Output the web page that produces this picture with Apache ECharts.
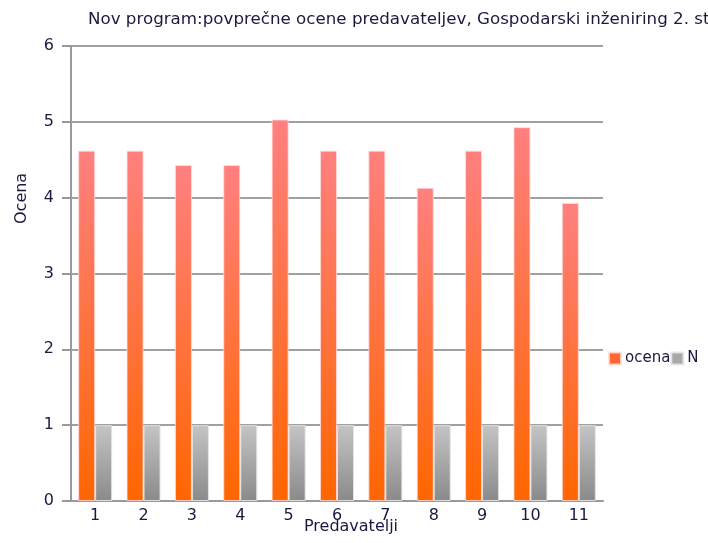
<!DOCTYPE html>
<html>
<head>
<meta charset="utf-8">
<script src="https://cdn.jsdelivr.net/npm/echarts@6/dist/echarts.min.js"></script>
<style>
  html, body { margin: 0; padding: 0; background: #fff; }
  #chart { width: 708px; height: 543px; }
</style>
</head>
<body>
<div id="chart"></div>
<script>
const categories = ['1', '2', '3', '4', '5', '6', '7', '8', '9', '10', '11'];
const ocena = [4.62, 4.62, 4.43, 4.43, 5.03, 4.62, 4.62, 4.13, 4.62, 4.93, 3.93];
const nValues = [1, 1, 1, 1, 1, 1, 1, 1, 1, 1, 1];
const titleText = 'Nov program:povprečne ocene predavateljev, Gospodarski inženiring 2. stopnja';

const font = 'DejaVu Sans';
const textColor = '#1a1a40';

const chart = echarts.init(document.getElementById('chart'));

// gradienti kot v izvirniku
const orangeFill = new echarts.graphic.LinearGradient(0, 0, 0, 1, [
  { offset: 0, color: '#ff8080' },
  { offset: 1, color: '#ff6600' }
]);
const grayFill = new echarts.graphic.LinearGradient(0, 0, 0, 1, [
  { offset: 0, color: '#c4c4c4' },
  { offset: 1, color: '#8a8a8a' }
]);

chart.setOption({
  animation: false,
  title: {
    text: titleText,
    left: 83,
    top: 6,
    textStyle: { fontFamily: font, fontSize: 16.7, fontWeight: 'normal', color: textColor }
  },
  legend: {
    data: [
      { name: 'ocena', itemStyle: { color: '#ff6633' } },
      { name: 'N', itemStyle: { color: '#a8a8a8' } }
    ],
    left: 603,
    top: 346,
    width: 200,
    itemWidth: 12,
    itemHeight: 12,
    itemGap: 0,
    icon: 'rect',
    textStyle: { fontFamily: font, fontSize: 15, color: textColor, padding: [0, 0, 0, -1] }
  },
  grid: { left: 71, right: 105, top: 46, bottom: 42, containLabel: false, outerBoundsMode: 'none' },
  xAxis: {
    type: 'category',
    data: categories,
    name: 'Predavatelji',
    nameLocation: 'middle',
    nameGap: 18,
    nameMoveOverlap: false,
    nameTextStyle: { fontFamily: font, fontSize: 16, color: textColor, padding: [0, 0, 0, 28] },
    axisLine: { lineStyle: { color: '#999', width: 2 } },
    axisTick: { show: false },
    axisLabel: { fontFamily: font, fontSize: 16, color: textColor, margin: 7 }
  },
  yAxis: {
    type: 'value',
    min: 0,
    max: 6,
    interval: 1,
    axisLine: { show: true, lineStyle: { color: '#999', width: 2 } },
    axisTick: { show: true, length: 9, lineStyle: { color: '#999', width: 2 } },
    axisLabel: { fontFamily: font, fontSize: 16, color: textColor, margin: 17 },
    splitLine: { lineStyle: { color: '#a0a0a0', width: 2 } }
  },
  graphic: [{
    type: 'text',
    x: 14,
    y: 224,
    rotation: Math.PI / 2,
    style: { text: 'Ocena', font: '16px "DejaVu Sans"', fill: textColor }
  }],
  series: [
    {
      name: 'ocena',
      type: 'bar',
      data: ocena,
      barWidth: 17,
      barGap: '0%',
      itemStyle: { color: orangeFill, borderColor: 'rgba(255,220,220,0.8)', borderWidth: 1 }
    },
    {
      name: 'N',
      type: 'bar',
      data: nValues,
      barWidth: 17,
      barGap: '0%',
      itemStyle: { color: grayFill, borderColor: 'rgba(230,230,230,0.9)', borderWidth: 1 }
    }
  ]
});
</script>
</body>
</html>
